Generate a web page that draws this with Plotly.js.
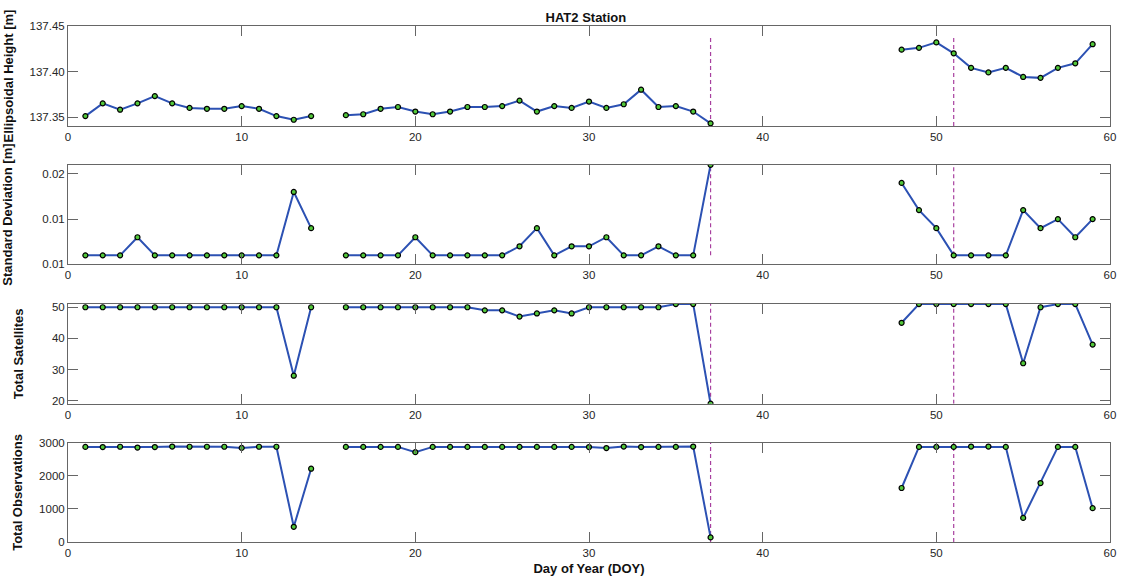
<!DOCTYPE html>
<html>
<head>
<meta charset="utf-8">
<script src="https://cdn.plot.ly/plotly-3.0.1.min.js"></script>
<style>html,body{margin:0;padding:0;background:#fff;}#chart{width:1122px;height:578px;}</style>
</head>
<body>
<div id="chart"></div>
<script>
// ---- Data ----
const doy = [1,2,3,4,5,6,7,8,9,10,11,12,13,14,15,16,17,18,19,20,21,22,23,24,25,26,27,28,29,30,31,32,33,34,35,36,37,38,39,40,41,42,43,44,45,46,47,48,49,50,51,52,53,54,55,56,57,58,59];

const ellipsoidalHeight = [137.351,137.365,137.358,137.365,137.373,137.365,137.360,137.359,137.359,137.362,137.359,137.351,137.347,137.351,null,
  137.352,137.353,137.359,137.361,137.356,137.353,137.356,137.361,137.361,137.362,137.368,137.356,137.362,137.360,137.367,137.360,137.364,137.380,137.361,137.362,137.356,137.343,
  null,null,null,null,null,null,null,null,null,null,
  137.424,137.426,137.432,137.420,137.404,137.399,137.404,137.394,137.393,137.404,137.409,137.430];

const standardDeviation = [0.006,0.006,0.006,0.008,0.006,0.006,0.006,0.006,0.006,0.006,0.006,0.006,0.013,0.009,null,
  0.006,0.006,0.006,0.006,0.008,0.006,0.006,0.006,0.006,0.006,0.007,0.009,0.006,0.007,0.007,0.008,0.006,0.006,0.007,0.006,0.006,0.016,
  null,null,null,null,null,null,null,null,null,null,
  0.014,0.011,0.009,0.006,0.006,0.006,0.006,0.011,0.009,0.010,0.008,0.010];

const totalSatellites = [50,50,50,50,50,50,50,50,50,50,50,50,28,50,null,
  50,50,50,50,50,50,50,50,49,49,47,48,49,48,50,50,50,50,50,51,51,19,
  null,null,null,null,null,null,null,null,null,null,
  45,51,51,51,51,51,51,32,50,51,51,38];

const totalObservations = [2880,2875,2885,2860,2875,2890,2885,2885,2885,2850,2885,2885,460,2220,null,
  2880,2880,2880,2880,2720,2880,2880,2880,2880,2880,2880,2880,2880,2880,2875,2845,2890,2875,2880,2880,2890,140,
  null,null,null,null,null,null,null,null,null,null,
  1635,2880,2880,2880,2890,2890,2880,730,1785,2880,2880,1025];

const eventDays = [37, 51];

const panelTitles = ['Ellipsoidal Height [m]', 'Standard Deviation [m]', 'Total Satellites', 'Total Observations'];
const xTicks = [0,10,20,30,40,50,60];
const hTicks = [137.35,137.40,137.45];
const sdTicks = [0.005,0.010,0.015];
const sdTickText = ['0.01','0.01','0.02'];
const satTicks = [20,30,40,50];
const obsTicks = [0,1000,2000,3000];

// ---- Styling ----
const FONT = 'Arial, "Liberation Sans", Helvetica, sans-serif';
const lineColor = '#2c51b3';
const markerColor = '#52c83a';
const axisColor = '#666666';
const eventColor = '#a8409f';

const series = [ellipsoidalHeight, standardDeviation, totalSatellites, totalObservations];
const yRanges = [[137.34,137.45],[0.005,0.016],[19,51],[0,3000]];
const eventSpans = [[137.34,137.44],[0.006,0.016],[19,51],[0,3000]];
const domains = [[0.806,1.0],[0.538,0.731],[0.268,0.461],[0.0,0.192]];
const titleStandoffs = [12, 26, 25, 13];

const traces = series.map((vals, i) => ({
  x: doy, y: vals, type: 'scatter', mode: 'lines+markers',
  xaxis: i === 0 ? 'x' : 'x' + (i + 1),
  yaxis: i === 0 ? 'y' : 'y' + (i + 1),
  connectgaps: false,
  line: {color: lineColor, width: 2},
  marker: {size: 5, color: markerColor, line: {color: '#000', width: 1.2}},
  hoverinfo: 'x+y', showlegend: false
}));

const layout = {
  width: 1122, height: 578,
  margin: {l: 68, r: 12, t: 26, b: 36},
  paper_bgcolor: '#fff', plot_bgcolor: '#fff',
  font: {family: FONT, size: 11.5, color: '#262626'},
  showlegend: false,
  title: {text: 'HAT2 Station', font: {family: FONT, size: 13, color: '#111', weight: 'bold'},
          x: 0.497, xref: 'paper', y: 1 - 17/578, yref: 'container', yanchor: 'middle'},
  shapes: []
};

const yTickCfg = [
  {tickvals: hTicks, tickformat: '.2f'},
  {tickvals: sdTicks, ticktext: sdTickText},
  {tickvals: satTicks},
  {tickvals: obsTicks}
];

for (let i = 0; i < 4; i++) {
  const xn = i === 0 ? 'xaxis' : 'xaxis' + (i + 1);
  const yn = i === 0 ? 'yaxis' : 'yaxis' + (i + 1);
  const yid = i === 0 ? 'y' : 'y' + (i + 1);
  const xid = i === 0 ? 'x' : 'x' + (i + 1);
  layout[xn] = {
    anchor: yid, domain: [0, 1], range: [0, 60],
    tickmode: 'array', tickvals: xTicks,
    ticks: 'inside', ticklen: 10, tickwidth: 1, tickcolor: axisColor,
    showline: true, linecolor: axisColor, linewidth: 1, mirror: 'ticks',
    showgrid: false, zeroline: false, automargin: false,
    tickfont: {family: FONT, size: 11.5, color: '#262626'}
  };
  layout[yn] = Object.assign({
    anchor: xid, domain: domains[i], range: yRanges[i],
    tickmode: 'array',
    ticks: 'inside', ticklen: 10, tickwidth: 1, tickcolor: axisColor,
    showline: true, linecolor: axisColor, linewidth: 1, mirror: 'ticks',
    showgrid: false, zeroline: false, automargin: false,
    tickfont: {family: FONT, size: 11.5, color: '#262626'},
    title: {text: panelTitles[i], standoff: titleStandoffs[i],
            font: {family: FONT, size: 13, color: '#111', weight: 'bold'}}
  }, yTickCfg[i]);
  eventDays.forEach(d => {
    layout.shapes.push({
      type: 'line', xref: xid, yref: yid, x0: d, x1: d,
      y0: eventSpans[i][0], y1: eventSpans[i][1], layer: 'below',
      line: {color: eventColor, width: 1.2, dash: '4px,3px'}
    });
  });
}
layout.xaxis4.title = {text: 'Day of Year (DOY)', standoff: 6,
  font: {family: FONT, size: 13, color: '#111', weight: 'bold'}};

Plotly.newPlot('chart', traces, layout, {displayModeBar: false, staticPlot: true});
</script>
</body>
</html>
